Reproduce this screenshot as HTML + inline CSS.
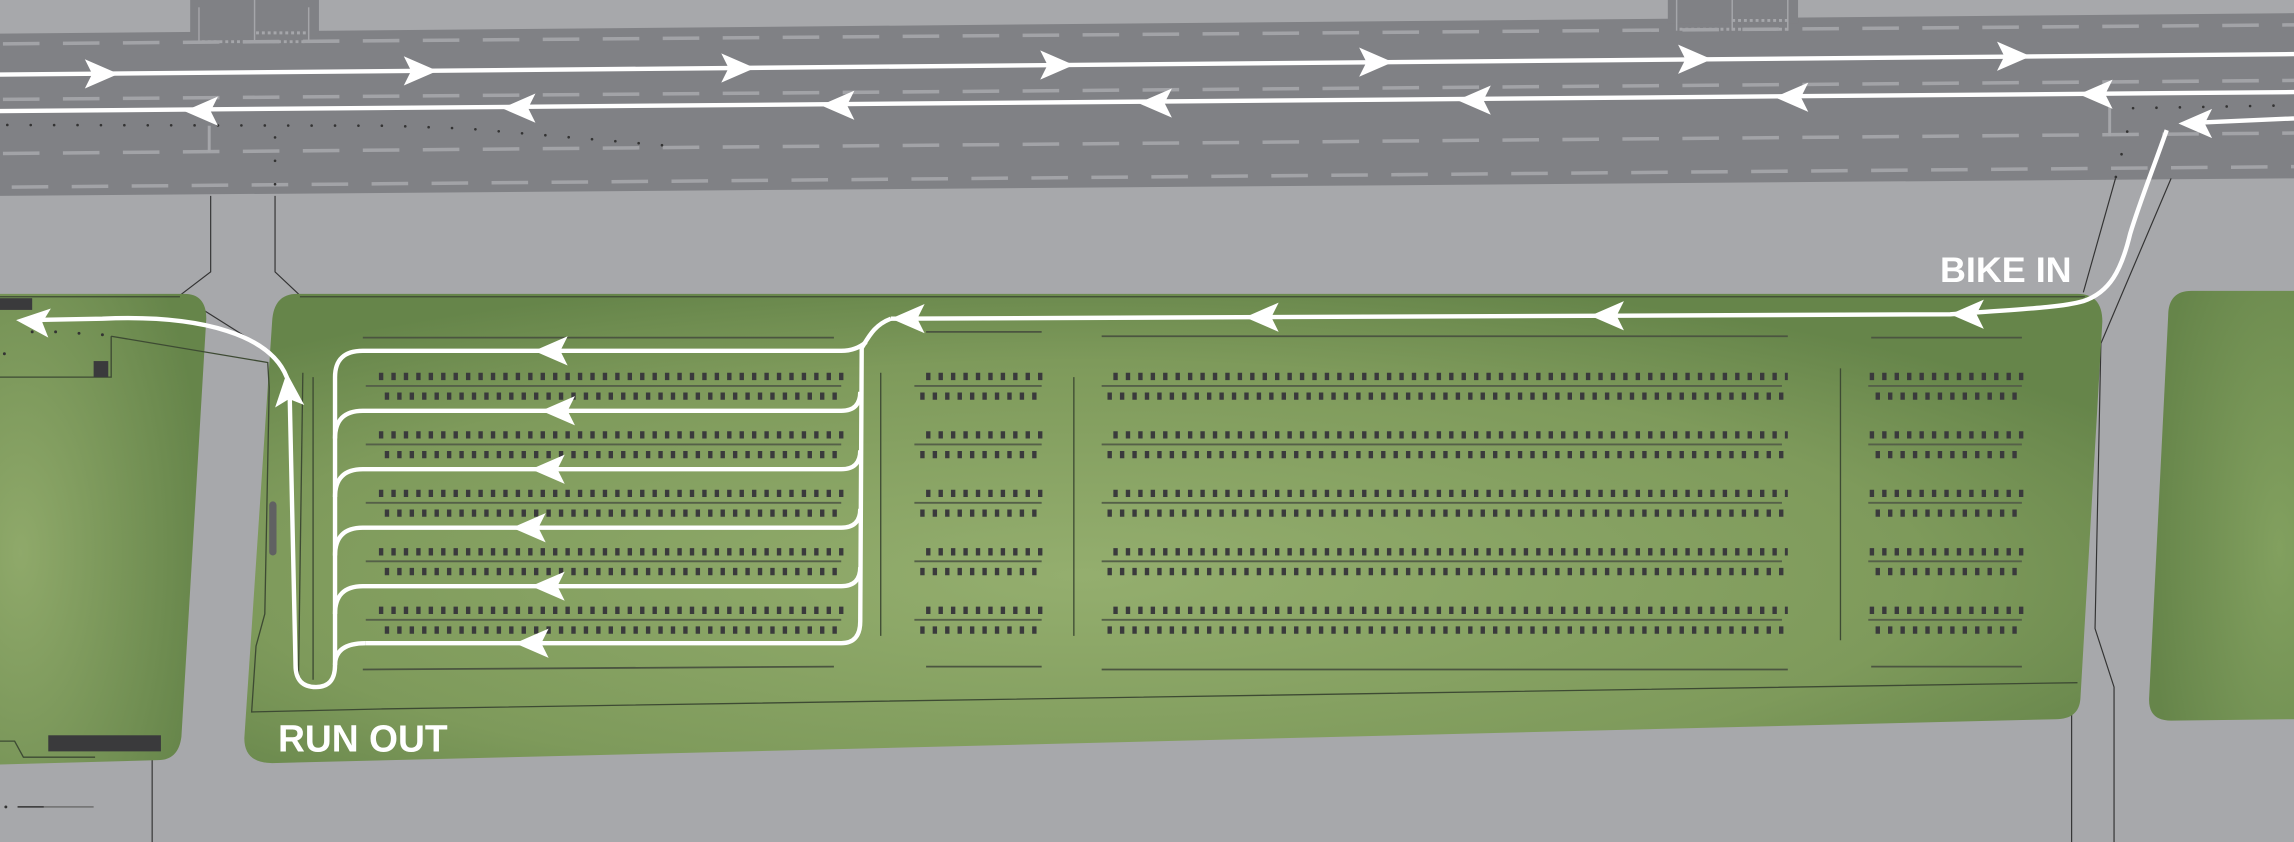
<!DOCTYPE html>
<html><head><meta charset="utf-8"><style>
html,body{margin:0;padding:0;background:#a7a8ab;}
svg{display:block;}
</style></head><body>
<svg width="2294" height="842" viewBox="0 0 1568 576" preserveAspectRatio="none" xmlns="http://www.w3.org/2000/svg">
<defs>
<radialGradient id="g1" cx="0.45" cy="0.6" r="0.65">
<stop offset="0" stop-color="#94ae6e"/><stop offset="0.7" stop-color="#7e9a5b"/><stop offset="1" stop-color="#66854a"/>
</radialGradient>
<radialGradient id="g2" cx="0.1" cy="0.55" r="0.9">
<stop offset="0" stop-color="#8fa96a"/><stop offset="1" stop-color="#66854a"/>
</radialGradient>
<radialGradient id="g3" cx="0.9" cy="0.6" r="0.9">
<stop offset="0" stop-color="#82a05f"/><stop offset="1" stop-color="#66854a"/>
</radialGradient>
<path id="ah" d="M0,0 L-23,-10 L-18,0 L-23,10 Z" fill="#fff"/>
</defs>

<!-- road -->
<polygon points="0,23 1568,9 1568,122 0,134" fill="#808185"/>
<rect x="130" y="0" width="88" height="24" fill="#808185"/>
<rect x="1140" y="0" width="89" height="16" fill="#808185"/>
<g stroke="#a5a6aa" stroke-width="1" fill="none">
<line x1="136" y1="5" x2="136" y2="29"/><line x1="174" y1="0" x2="174" y2="29"/><line x1="211" y1="5" x2="211" y2="29"/>
<line x1="138" y1="28.5" x2="210" y2="28.5" stroke-dasharray="2,2" stroke-width="2"/>
<line x1="175" y1="22.5" x2="210" y2="22.5" stroke-dasharray="2,2" stroke-width="2"/>
<line x1="1146" y1="0" x2="1146" y2="21"/><line x1="1184" y1="0" x2="1184" y2="21"/><line x1="1222" y1="0" x2="1222" y2="21"/>
<line x1="1148" y1="20" x2="1222" y2="20" stroke-dasharray="2,2" stroke-width="2"/>
<line x1="1184" y1="14" x2="1222" y2="14" stroke-dasharray="2,2" stroke-width="2"/>
</g>
<g stroke="#a2a3a7" stroke-width="2.4" stroke-dasharray="25,16" fill="none">
<line x1="2" y1="30" x2="1568" y2="17"/>
<line x1="2" y1="68" x2="1568" y2="55"/>
<line x1="2" y1="105" x2="1568" y2="91"/>
<line x1="8" y1="128" x2="1568" y2="114"/>
</g>
<line x1="143" y1="86" x2="143" y2="104" stroke="#a5a6aa" stroke-width="2"/>
<line x1="1442" y1="73" x2="1442" y2="93" stroke="#a5a6aa" stroke-width="2"/>
<!-- dotted -->
<g stroke="#333" stroke-width="1.8" stroke-linecap="round" stroke-dasharray="0,16" fill="none">
<path d="M5,85.5 L265,86 L320,88 L460,100"/>
<line x1="188" y1="94" x2="188" y2="134"/>
<line x1="1458" y1="74" x2="1568" y2="72"/>
<line x1="1454" y1="90" x2="1446" y2="122"/>
</g>

<!-- connector lines -->
<g stroke="#333" stroke-width="0.8" fill="none">
<polyline points="144,134 144,186 123,202"/>
<polyline points="188,134 188,186 205,202"/>
<polyline points="123,202 207,255 207,465"/>
<polyline points="1446,122 1424,200"/>
<polyline points="1484,122 1436,235 1432,430 1445,470 1445,576"/>
<polyline points="1420,440 1416,470 1416,576"/>
<line x1="104" y1="515" x2="104" y2="576"/>
<line x1="12" y1="552" x2="30" y2="552" stroke-width="1"/>
</g>
<line x1="30" y1="552" x2="64" y2="552" stroke="#777" stroke-width="1.2"/>
<circle cx="4" cy="552" r="1" fill="#333"/>

<!-- green blocks -->
<path d="M0,201 L126,201 Q141,201 141,218 L124,504 Q122,520 108,520 L0,523 Z" fill="url(#g2)"/>
<path d="M203,201 L1420,201 Q1437,201 1437,220 L1422,478 Q1421,492 1405,492 L186,522 Q167,522 167,505 L186,220 Q187,201 203,201 Z" fill="url(#g1)"/>
<path d="M1568,199 L1498,199 Q1482,199 1482,216 L1469,477 Q1468,493 1484,493 L1568,492 Z" fill="url(#g3)"/>

<!-- green block outline lines -->
<g stroke="#3d4a33" stroke-width="0.9" fill="none">
<line x1="205" y1="203" x2="1425" y2="203"/>
<line x1="0" y1="203" x2="123" y2="203"/>
<polyline points="207,255 204,465"/>
<polyline points="76,230 183,248 184,265 181,420 175,442 172,487 260,485 1420,467"/>
<polyline points="0,258 76,258 76,230"/>
<line x1="602" y1="255" x2="602" y2="435"/><line x1="734" y1="258" x2="734" y2="435"/><line x1="1258" y1="252" x2="1258" y2="438"/>
<line x1="214" y1="258" x2="214" y2="465"/>
<polyline points="0,507 10,507 16,518 65,518"/>
</g>
<rect x="184" y="343" width="5" height="37" rx="2.5" fill="#606162"/>
<rect x="64" y="247" width="10" height="11" fill="#3a3a3c"/>
<rect x="0" y="204" width="22" height="8" fill="#3a3a3c"/>
<rect x="33" y="503" width="77" height="11" fill="#3a3a3c"/>
<g fill="#333"><circle cx="22" cy="227" r="1"/><circle cx="38" cy="227" r="1"/><circle cx="54" cy="228" r="1"/><circle cx="70" cy="229" r="1"/><circle cx="3" cy="242" r="1"/></g>

<!-- parking aisle lines -->
<g stroke="#4b5540" stroke-width="1.2" fill="none">
<line x1="248" y1="231" x2="570" y2="231"/><line x1="633" y1="227" x2="712" y2="227"/><line x1="753" y1="230" x2="1222" y2="230"/><line x1="1279" y1="231" x2="1382" y2="231"/>
<line x1="248" y1="458" x2="570" y2="456"/><line x1="633" y1="456" x2="712" y2="456"/><line x1="753" y1="458" x2="1222" y2="458"/><line x1="1279" y1="456" x2="1382" y2="456"/>
</g>
<g stroke="#556048" stroke-width="1.3" fill="none">
<line x1="250" y1="264" x2="575" y2="264"/><line x1="250" y1="304" x2="575" y2="304"/><line x1="250" y1="344" x2="575" y2="344"/><line x1="250" y1="384" x2="575" y2="384"/><line x1="250" y1="424" x2="575" y2="424"/>
<line x1="625" y1="264" x2="712" y2="264"/><line x1="625" y1="304" x2="712" y2="304"/><line x1="625" y1="344" x2="712" y2="344"/><line x1="625" y1="384" x2="712" y2="384"/><line x1="625" y1="424" x2="712" y2="424"/>
<line x1="753" y1="264" x2="1218" y2="264"/><line x1="753" y1="304" x2="1218" y2="304"/><line x1="753" y1="344" x2="1218" y2="344"/><line x1="753" y1="384" x2="1218" y2="384"/><line x1="753" y1="424" x2="1218" y2="424"/>
<line x1="1277" y1="264" x2="1382" y2="264"/><line x1="1277" y1="304" x2="1382" y2="304"/><line x1="1277" y1="344" x2="1382" y2="344"/><line x1="1277" y1="384" x2="1382" y2="384"/><line x1="1277" y1="424" x2="1382" y2="424"/>
</g>
<!-- parking marks -->
<g stroke="#3a3a3c" stroke-width="5" stroke-dasharray="3,5.5" fill="none">
<path d="M259,257.5 H578 M263,271 H575 M259,297.5 H578 M263,311 H575 M259,337.5 H578 M263,351 H575 M259,377.5 H578 M263,391 H575 M259,417.5 H578 M263,431 H575"/>
<path d="M633,257.5 H713 M629,271 H712 M633,297.5 H713 M629,311 H712 M633,337.5 H713 M629,351 H712 M633,377.5 H713 M629,391 H712 M633,417.5 H713 M629,431 H712"/>
<path d="M761,257.5 H1222 M757,271 H1219 M761,297.5 H1222 M757,311 H1219 M761,337.5 H1222 M757,351 H1219 M761,377.5 H1222 M757,391 H1219 M761,417.5 H1222 M757,431 H1219"/>
<path d="M1278,257.5 H1383 M1282,271 H1380 M1278,297.5 H1383 M1282,311 H1380 M1278,337.5 H1383 M1282,351 H1380 M1278,377.5 H1383 M1282,391 H1380 M1278,417.5 H1383 M1282,431 H1380"/>
</g>

<!-- road arrows -->
<g stroke="#fff" stroke-width="3" fill="none">
<line x1="0" y1="51" x2="1568" y2="37"/>
<line x1="0" y1="76" x2="1568" y2="63"/>
<path d="M1568,81 L1500,84"/>
<path d="M1481,89 C1470,120 1462,140 1456,160 C1450,185 1442,200 1424,206 C1410,210 1390,211 1333,215 L609,218"/>
<path d="M609,218 C598,222 594,230 589,238 L588,425 Q588,440 575,440 L250,440"/>
<path d="M592,234 Q585,240 575,240 L248,240 Q229,240 229,258 L229,455 Q229,470 216,470 Q202,470 202,455 L198,270"/>
<path d="M588,268 Q588,281 575,281 L248,281 Q229,281 229,300"/>
<path d="M588,308 Q588,321 575,321 L248,321 Q229,321 229,340"/>
<path d="M588,348 Q588,361 575,361 L248,361 Q229,361 229,380"/>
<path d="M588,388 Q588,401 575,401 L248,401 Q229,401 229,420"/>
<path d="M250,440 Q229,440 229,455"/>
<path d="M196,258 C185,230 140,215 70,218 L16,219"/>
</g>
<g>
<use href="#ah" transform="translate(81,50.5)"/>
<use href="#ah" transform="translate(299,48.5)"/>
<use href="#ah" transform="translate(516,46.5)"/>
<use href="#ah" transform="translate(734,44.5)"/>
<use href="#ah" transform="translate(952,42.5)"/>
<use href="#ah" transform="translate(1170,40.5)"/>
<use href="#ah" transform="translate(1388,38.5)"/>
<use href="#ah" transform="translate(126,76) rotate(180)"/>
<use href="#ah" transform="translate(343,74) rotate(180)"/>
<use href="#ah" transform="translate(561,72) rotate(180)"/>
<use href="#ah" transform="translate(778,70.5) rotate(180)"/>
<use href="#ah" transform="translate(996,68.5) rotate(180)"/>
<use href="#ah" transform="translate(1213,66.5) rotate(180)"/>
<use href="#ah" transform="translate(1421,64.5) rotate(180)"/>
<use href="#ah" transform="translate(1489,84.5) rotate(180)"/>
<use href="#ah" transform="translate(1333,215) rotate(180)"/>
<use href="#ah" transform="translate(1087,216) rotate(180)"/>
<use href="#ah" transform="translate(851,217) rotate(180)"/>
<use href="#ah" transform="translate(609,218) rotate(180)"/>
<use href="#ah" transform="translate(365,240) rotate(180)"/>
<use href="#ah" transform="translate(370,281) rotate(180)"/>
<use href="#ah" transform="translate(363,321) rotate(180)"/>
<use href="#ah" transform="translate(350,361) rotate(180)"/>
<use href="#ah" transform="translate(363,401) rotate(180)"/>
<use href="#ah" transform="translate(352,440) rotate(180)"/>
<use href="#ah" transform="translate(196,255) rotate(-95)"/>
<use href="#ah" transform="translate(11,219) rotate(185)"/>
</g>

<text x="1326" y="193" font-family="'Liberation Sans', sans-serif" font-weight="bold" font-size="24" fill="#fff" textLength="90" lengthAdjust="spacingAndGlyphs">BIKE IN</text>
<text x="190" y="514" font-family="'Liberation Sans', sans-serif" font-weight="bold" font-size="26" fill="#fff" textLength="116" lengthAdjust="spacingAndGlyphs">RUN OUT</text>
</svg>
</body></html>
